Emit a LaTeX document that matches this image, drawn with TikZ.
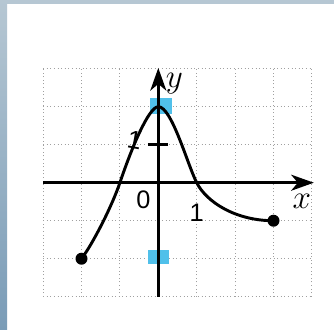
\documentclass[tikz,border=0pt]{standalone}
\usepackage{fontspec}
\newfontfamily\numfont{Liberation Sans}
\usetikzlibrary{arrows.meta}
\definecolor{framelight}{RGB}{182,199,211}
\definecolor{framedark}{RGB}{122,156,183}
\definecolor{markblue}{RGB}{80,192,234}
\definecolor{gridgray}{RGB}{160,160,160}
\tikzset{
  gridline/.style={gridgray, line width=0.7pt, dotted},
  axisline/.style={black, line width=2.2pt, -{Stealth[length=17pt,width=12pt,inset=5pt]}},
  curveline/.style={black, line width=2.2pt},
  enddot/.style={circle, fill=black, inner sep=0pt, minimum size=9pt},
  numlabel/.style={font=\numfont\fontsize{19}{19}\selectfont, inner sep=0pt},
  varlabel/.style={font=\fontsize{24}{24}\selectfont, inner sep=0pt},
}
\begin{document}
\begin{tikzpicture}[x=0.75pt,y=-0.75pt]
\useasboundingbox (0,0) rectangle (334,329);
\fill[white] (0,0) rectangle (334,329);
\fill[framelight] (0,0) rectangle (334,4);
\shade[top color=framelight, bottom color=framedark] (0,0) rectangle (7,329);
\begin{scope}[shift={(158.3,182.7)}]
\begin{scope}[x=28.8pt,y=28.5pt]
  % grid
  \foreach \i in {-3,...,4} \draw[gridline] (\i,-3) -- (\i,3);
  \foreach \j in {-3,...,3} \draw[gridline] (-3,\j) -- (4,\j);
  % blue marks
  \fill[markblue] (-0.22,1.82) rectangle (0.36,2.22);
  \fill[markblue] (-0.27,-1.77) rectangle (0.29,-2.15);
  % axes
  \coordinate (xs) at (-3,0);
  \coordinate (xe) at (4.05,0);
  \coordinate (ys) at (0,-3);
  \coordinate (ye) at (0,3.02);
  \draw[axisline] (xs) -- (xe);
  \draw[axisline] (ys) -- (ye);
  % tick at y=1
  \coordinate (t1) at (-0.27,1);
  \coordinate (t2) at (0.25,1);
  \draw[black, line width=2.2pt] (t1) -- (t2);
  % curve
  \node[enddot] (p1) at (-2,-2) {};
  \node[enddot] (p2) at (3,-1) {};
  \draw[curveline] (p1.center) .. controls (-1.7,-1.6) and (-1.2,-0.6) .. (-1,0)
     .. controls (-0.7,0.9) and (-0.25,2) .. (0,2)
     .. controls (0.35,2) and (0.75,0.5) .. (1,0)
     .. controls (1.25,-0.5) and (2,-1) .. (p2.center);
  % labels
  \node[varlabel] (ly) at (0.42,2.6) {$y$};
  \node[varlabel] (lx) at (3.74,-0.5) {$x$};
  \node[numlabel] (l0) at (-0.39,-0.46) {0};
  \node[numlabel] (l1x) at (1.0,-0.8) {1};
  \node[numlabel, rotate=-10] (l1y) at (-0.62,1.12) {1};
\end{scope}
\end{scope}
\end{tikzpicture}
\end{document}
